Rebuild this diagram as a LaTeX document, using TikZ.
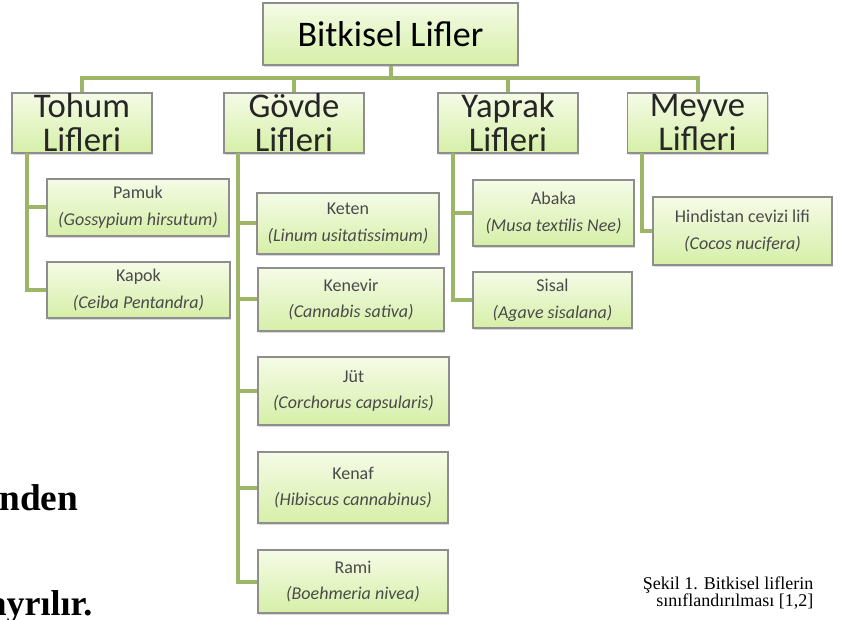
\documentclass[tikz,border=0pt]{standalone}
\usepackage{fontspec}
\setmainfont{Liberation Serif}
\newfontfamily\boxfont{Carlito}
\usepackage{tikz}
\usetikzlibrary{shadows}
\usepackage{xcolor}
\definecolor{linkgreen}{HTML}{9CB566}
\definecolor{boxtop}{HTML}{F5FBE6}
\definecolor{boxbot}{HTML}{D6EFA8}
\definecolor{boxline}{HTML}{8E8E8E}
\definecolor{leaftext}{HTML}{4A4A4A}
\tikzstyle{box}=[draw=boxline, line width=0.8pt, top color=boxtop, bottom color=boxbot, drop shadow={shadow xshift=1pt, shadow yshift=-1.5pt, opacity=0.3}, inner sep=0pt, align=center]
\tikzstyle{rootbox}=[box, minimum width=191.25pt, minimum height=46.5pt, font=\boxfont\fontsize{27}{27}\selectfont]
\tikzstyle{groupbox}=[box, minimum width=105pt, minimum height=45pt, font=\boxfont\fontsize{26}{25.5}\selectfont, text=black!85]
\tikzstyle{leaf}=[box, font=\boxfont\fontsize{13.5}{20}\selectfont, text=leaftext]
\tikzstyle{link}=[draw=linkgreen, line width=3pt]
\newcommand{\latin}[1]{\textit{(#1)}}

\begin{document}
\begin{tikzpicture}[x=0.75pt, y=-0.75pt]
\useasboundingbox (0,0) rectangle (843,620);
\clip (0,0) rectangle (843,620);
% root and groups
\node[rootbox] (root) at (390.5,34) {Bitkisel Lifler};
\node[groupbox] (tohum) at (82,123) {Tohum\\Lifleri};
\node[groupbox] (govde) at (294,123) {Gövde\\Lifleri};
\node[groupbox] (yaprak) at (508,123) {Yaprak\\Lifleri};
\node[groupbox] (meyve) at (697.5,123) {Meyve\\Lifleri};
% leaves
\node[leaf, minimum width=136.5pt, minimum height=42.75pt] (pamuk) at (138,207.5) {Pamuk\\\latin{Gossypium hirsutum}};
\node[leaf, minimum width=137.25pt, minimum height=42pt] (kapok) at (138.5,290) {Kapok\\\latin{Ceiba Pentandra}};
\node[leaf, minimum width=136.5pt, minimum height=45.75pt] (keten) at (348,223.5) {Keten\\\latin{Linum usitatissimum}};
\node[leaf, minimum width=139.5pt, minimum height=47.25pt] (kenevir) at (351,299.5) {Kenevir\\\latin{Cannabis sativa}};
\node[leaf, minimum width=143.25pt, minimum height=51pt] (jut) at (353.5,391) {Jüt\\\latin{Corchorus capsularis}};
\node[leaf, minimum width=142.5pt, minimum height=53.25pt] (kenaf) at (353,487.5) {Kenaf\\\latin{Hibiscus cannabinus}};
\node[leaf, minimum width=142.5pt, minimum height=47.25pt] (rami) at (353,581.5) {Rami\\\latin{Boehmeria nivea}};
\node[leaf, minimum width=120.75pt, minimum height=49.5pt] (abaka) at (553.5,213) {Abaka\\\latin{Musa textilis Nee}};
\node[leaf, minimum width=119.25pt, minimum height=42pt] (sisal) at (552.5,300) {Sisal\\\latin{Agave sisalana}};
\node[leaf, minimum width=134.25pt, minimum height=51pt] (hindistan) at (742.5,231) {Hindistan cevizi lifi\\\latin{Cocos nucifera}};
% connectors
\coordinate (bar) at (390.5,78);
\coordinate (ts) at (27,153);
\coordinate (gs) at (238,153);
\coordinate (ys) at (453,153);
\coordinate (ms) at (642,153);
\draw[link] (root.south) -- (bar);
\draw[link] (bar) -| (tohum.north);
\draw[link] (bar) -| (govde.north);
\draw[link] (bar) -| (yaprak.north);
\draw[link] (bar) -| (meyve.north);
\draw[link] (ts) |- (pamuk.west);
\draw[link] (ts) |- (kapok.west);
\draw[link] (gs) |- (keten.west);
\draw[link] (gs) |- (kenevir.west);
\draw[link] (gs) |- (jut.west);
\draw[link] (gs) |- (kenaf.west);
\draw[link] (gs) |- (rami.west);
\draw[link] (ys) |- (abaka.west);
\draw[link] (ys) |- (sisal.west);
\draw[link] (ms) |- (hindistan.west);
% text around the figure
\node[anchor=base east, font=\bfseries\fontsize{28}{28}\selectfont] (txta) at (83,510) {nden};
\node[anchor=base east, font=\bfseries\fontsize{27}{27}\selectfont] (txtb) at (97,615) {ayrılır.};
\node[anchor=east, align=right, font=\fontsize{13.5}{12.5}\selectfont] (caption) at (818,593) {Şekil 1. Bitkisel liflerin\\sınıflandırılması [1,2]};
\end{tikzpicture}
\end{document}
